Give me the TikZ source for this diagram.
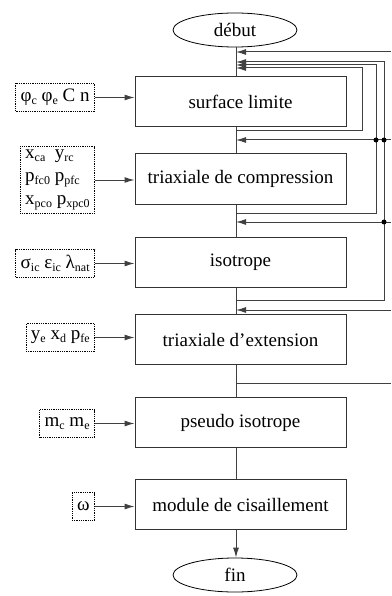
\documentclass[tikz,border=0pt]{standalone}
\usepackage{fontspec}
\setmainfont{Liberation Serif}
\usetikzlibrary{arrows.meta,shapes.geometric}
\newcommand{\sbx}[1]{\raisebox{-0.35ex}{\fontsize{12}{12}\selectfont #1}}
\begin{document}
\begin{tikzpicture}[x=1pt,y=-1pt, font=\fontsize{19}{23}\selectfont,
  line/.style={line width=1pt, draw=black!75},
  arr/.style={line, -{Latex[length=10pt,width=6pt]}},
  stepbox/.style={draw=black!80, line width=1pt, minimum width=211pt, minimum height=50pt, inner sep=0pt},
  term/.style={ellipse, draw, line width=0.8pt, minimum width=124pt, minimum height=34pt, inner sep=0pt},
  inbox/.style={draw, densely dotted, line width=0.8pt, anchor=east, minimum height=28pt, inner xsep=5pt, inner ysep=3pt, align=left},
  jdot/.style={circle, fill, inner sep=0pt, minimum size=5pt}]
\useasboundingbox (0,0) rectangle (391,596);

% main column
\node[term] (deb) at (235,30) {début};
\node[stepbox] (b1) at (240.5,101.5) {surface limite};
\node[stepbox] (b2) at (240.5,179) {triaxiale de compression};
\node[stepbox] (b3) at (240.5,262) {isotrope};
\node[stepbox] (b4) at (240.5,339.5) {triaxiale d’extension};
\node[stepbox] (b5) at (240.5,422.5) {pseudo isotrope};
\node[stepbox] (b6) at (240.5,504.5) {module de cisaillement};
\node[term] (fin) at (235,575) {fin};

\coordinate (m) at (236,0);
\coordinate (R) at (391,0);
\coordinate (v1) at (362,0);
\coordinate (v2) at (376,0);
\coordinate (v3) at (384,0);

\draw[line] (deb.south -| m) -- (b1.north -| m);
\draw[line] (b1.south -| m) -- (b2.north -| m);
\draw[line] (b2.south -| m) -- (b3.north -| m);
\draw[line] (b3.south -| m) -- (b4.north -| m);
\draw[line] (b4.south -| m) -- (b5.north -| m);
\draw[line] (b5.south -| m) -- (b6.north -| m);
\draw[arr] (b6.south -| m) -- (fin.north -| m);

% feedback points on the main line
\coordinate (o1) at (236,131);
\coordinate (o2) at (236,213);
\coordinate (o3) at (236,300);
\coordinate (o4) at (236,383);
\coordinate (i0) at (236,52);
\coordinate (i1) at (236,62);
\coordinate (i2) at (236,65);
\coordinate (i3) at (236,68);
\coordinate (i4) at (236,140);
\coordinate (i5) at (236,222);
\coordinate (i6) at (236,310);

\draw[arr] (o1) -| (i3 -| v1) -- (i3);
\draw[arr] (o2) -| (i2 -| v2) -- (i2);
\draw[arr] (o3) -| (i1 -| v3) -- (i1);
\draw[arr] (i0 -| R) -- (i0);
\draw[arr] (i4 -| R) -- (i4);
\draw[arr] (i5 -| R) -- (i5);
\draw[arr] (i6 -| R) -- (i6);
\draw[line] (o4) -- (o4 -| R);
\node[jdot] (d1) at (i4 -| v2) {};
\node[jdot] (d2) at (i4 -| v3) {};
\node[jdot] (d3) at (i5 -| v3) {};

% inputs
\node[inbox] (p1) at (95,97.5) {φ\sbx{c} φ\sbx{e} C n};
\node[inbox] (p2) at (95,180) {x\sbx{ca}\ \ y\sbx{rc}\\p\sbx{fc0} p\sbx{pfc}\\x\sbx{pco} p\sbx{xpc0}};
\node[inbox] (p3) at (95,263.5) {σ\sbx{ic} ε\sbx{ic} λ\sbx{nat}};
\node[inbox] (p4) at (95,337.5) {y\sbx{e} x\sbx{d} p\sbx{fe}};
\node[inbox] (p5) at (95,423.5) {m\sbx{c} m\sbx{e}};
\node[inbox] (p6) at (95,506.5) {ω};

\draw[arr] (p1.east) -- (p1.east -| b1.west);
\draw[arr] (p2.east) -- (p2.east -| b2.west);
\draw[arr] (p3.east) -- (p3.east -| b3.west);
\draw[arr] (p4.east) -- (p4.east -| b4.west);
\draw[arr] (p5.east) -- (p5.east -| b5.west);
\draw[arr] (p6.east) -- (p6.east -| b6.west);
\end{tikzpicture}
\end{document}
